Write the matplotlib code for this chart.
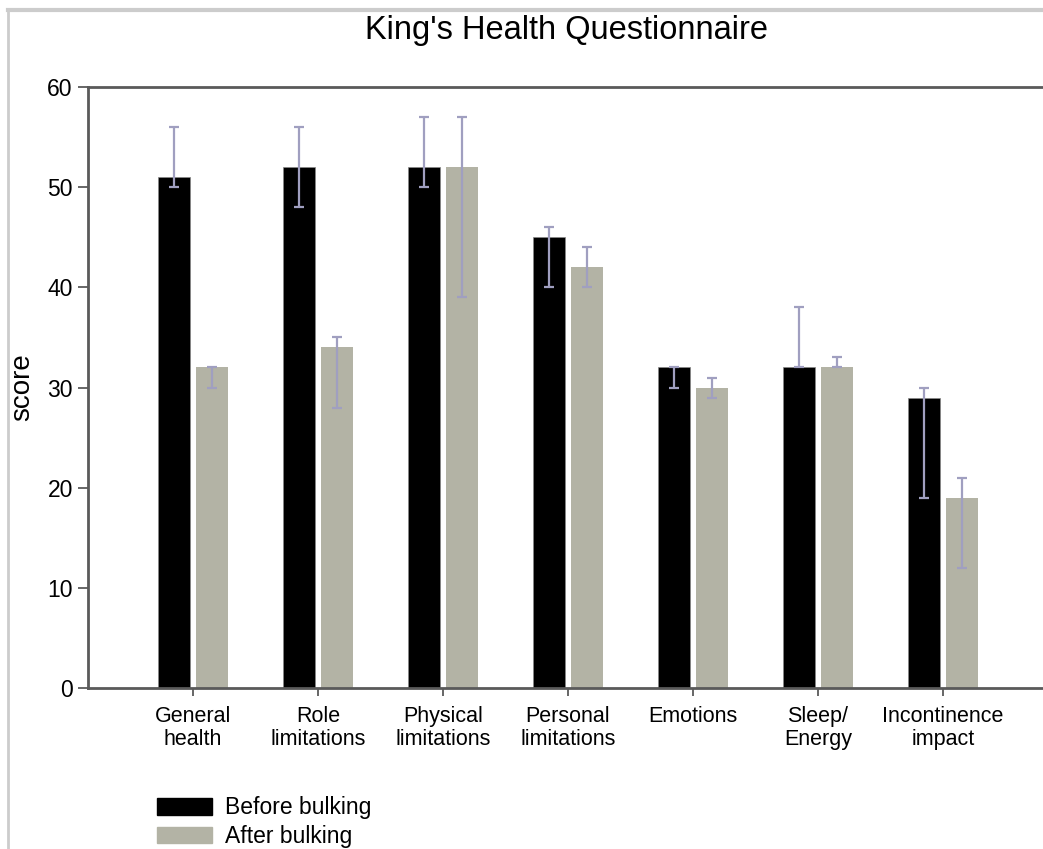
import numpy as np
import matplotlib.pyplot as plt
from matplotlib.patches import Patch
from matplotlib.lines import Line2D

plt.rcParams['font.family'] = ['Liberation Sans', 'DejaVu Sans']

categories = ["General\nhealth", "Role\nlimitations", "Physical\nlimitations", "Personal\nlimitations",
              "Emotions", "Sleep/\nEnergy", "Incontinence\nimpact"]
before = [51, 52, 52, 45, 32, 32, 29]
before_low = [50, 48, 50, 40, 30, 32, 19]
before_high = [56, 56, 57, 46, 32, 38, 30]
after = [32, 34, 52, 42, 30, 32, 19]
after_low = [30, 28, 39, 40, 29, 32, 12]
after_high = [32, 35, 57, 44, 31, 33, 21]

black = "#000000"
grey = "#b3b3a5"
err_col = "#a09fc0"
axis_col = "#5a5a5a"


def plot_kings_health():
    fig = plt.figure(figsize=(10.43, 8.49), dpi=100)
    ax = fig.add_axes([0.0844, 0.1896, 0.9156, 0.7079])
    x = np.arange(len(categories))
    w = 0.26
    off = 0.152
    ax.bar(x - off, before, w, color=black, edgecolor="#888888", linewidth=0.5, zorder=2)
    ax.bar(x + off, after, w, color=grey, edgecolor="none", zorder=2)
    # asymmetric error bars from the low/high limits
    b_err = [np.array(before) - np.array(before_low), np.array(before_high) - np.array(before)]
    a_err = [np.array(after) - np.array(after_low), np.array(after_high) - np.array(after)]
    ax.errorbar(x - off, before, yerr=b_err, fmt="none", ecolor=err_col, elinewidth=1.6,
                capsize=3.3, capthick=1.6, zorder=3)
    ax.errorbar(x + off, after, yerr=a_err, fmt="none", ecolor=err_col, elinewidth=1.6,
                capsize=3.3, capthick=1.6, zorder=3)

    ax.set_xlim(-0.84, 6.8)
    ax.set_ylim(0, 60)
    ax.set_yticks(range(0, 61, 10))
    ax.set_xticks(x)
    ax.set_xticklabels(categories, fontsize=15.5, linespacing=1.15)
    ax.tick_params(axis="y", labelsize=16.5, length=7, width=1.3, color=axis_col, pad=4)
    ax.tick_params(axis="x", length=6, width=1.3, color=axis_col, pad=7)
    for s in ["left", "bottom", "top"]:
        ax.spines[s].set_color(axis_col)
        ax.spines[s].set_linewidth(2)
    ax.spines["right"].set_visible(False)
    ax.set_ylabel("score", fontsize=20, va="center")
    ax.yaxis.set_label_coords(-0.069, 0.5)
    fig.text(0.543, 0.964, "King's Health Questionnaire", ha="center", va="center", fontsize=23.5)

    handles = [Patch(facecolor=black, edgecolor=black), Patch(facecolor=grey, edgecolor=grey)]
    fig.legend(handles, ["Before bulking", "After bulking"], loc="upper left",
               bbox_to_anchor=(0.1505, 0.062), bbox_transform=fig.transFigure, frameon=False,
               fontsize=16.5, handlelength=2.4, handleheight=0.75, handletextpad=0.57,
               labelspacing=0.25, borderaxespad=0, borderpad=0)

    # outer grey frame of the original figure
    fig.add_artist(Line2D([0.008, 1.0], [0.988, 0.988], color="#cccccc", lw=3))
    fig.add_artist(Line2D([0.008, 0.008], [0.0, 0.988], color="#cccccc", lw=2))

    fig.savefig("out.png", dpi=100)
    plt.close(fig)


def main():
    plot_kings_health()


if __name__ == '__main__':
    main()
